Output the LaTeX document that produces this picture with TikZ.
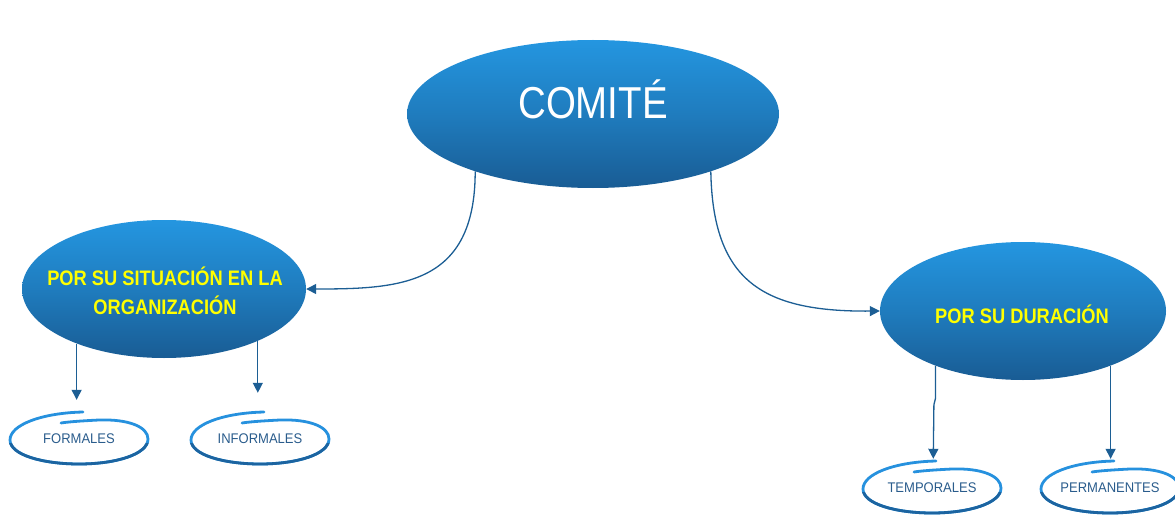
\documentclass[tikz,border=0pt]{standalone}
\usepackage{fontspec}
\setmainfont{Liberation Sans}
\newfontfamily\titlefont[FakeStretch=0.86]{Liberation Sans}
\newfontfamily\headfont[FakeStretch=0.87]{Liberation Sans}
\newfontfamily\leaffont[FakeStretch=0.93]{Liberation Sans}
\usetikzlibrary{shapes.geometric,arrows.meta}

\definecolor{topblue}{RGB}{36,150,224}
\definecolor{botblue}{RGB}{25,92,148}
\definecolor{linkblue}{RGB}{28,94,148}
\definecolor{labelblue}{RGB}{42,92,140}
\definecolor{ringlight}{RGB}{38,145,222}
\definecolor{ringdark}{RGB}{28,100,160}
\definecolor{hiyellow}{RGB}{255,255,0}

\tikzset{
  bubble/.style={ellipse, draw=none, top color=topblue, bottom color=botblue,
                 middle color=topblue!55!botblue, inner sep=0pt},
  leaf/.style={ellipse, draw=none, inner sep=0pt, minimum width=138pt,
               minimum height=50pt, text=labelblue,
               font=\leaffont\fontsize{14}{16}\selectfont},
  ring/.style={line width=2.8pt, line cap=round},
  link/.style={draw=linkblue, line width=1.3pt,
               -{Triangle[length=10pt,width=10pt]}},
}

% outline of a hand-drawn loop, relative to the label centre
\newcommand{\ringpath}{%
    (4,-27) .. controls (-38,-26) and (-69,-14) .. (-69,1)
            .. controls (-69,16) and (-36,25) .. (0,25)
            .. controls (38,25) and (69,15) .. (69,0)
            .. controls (69,-12) and (50,-20) .. (20,-19)
            .. controls (0,-18) and (-12,-17) .. (-18,-16)}

% loop around a leaf label: lighter on top, darker underneath
\newcommand{\loopring}[1]{%
  \begin{scope}[shift={(#1.center)}]
    \draw[ring, draw=ringlight] \ringpath;
    \begin{scope}
      \clip (-80,4) rectangle (80,32);
      \draw[ring, draw=ringdark] \ringpath;
    \end{scope}
  \end{scope}}

\begin{document}
\begin{tikzpicture}[x=1pt, y=-1pt]
\useasboundingbox (0,0) rectangle (1175,516);

% main concept
\node[bubble, minimum width=372pt, minimum height=148pt] (comite) at (593,114) {};
\node[text=white, font=\titlefont\fontsize{44.7}{50}\selectfont] (comitetxt) at (593,99) {COMITÉ};

% categories
\node[bubble, minimum width=284pt, minimum height=138pt] (situ) at (164,289) {};
\node[text=hiyellow, align=center, font=\headfont\bfseries\fontsize{21}{29}\selectfont]
  (situtxt) at (165,291) {POR SU SITUACIÓN EN LA\\ORGANIZACIÓN};

\node[bubble, minimum width=286pt, minimum height=138pt] (dur) at (1023,311) {};
\node[text=hiyellow, font=\headfont\bfseries\fontsize{21}{29}\selectfont]
  (durtxt) at (1022,314) {POR SU DURACIÓN};

% leaves
\node[leaf] (formales) at (79,439) {FORMALES};
\node[leaf] (informales) at (260,439) {INFORMALES};
\node[leaf] (temporales) at (932,488) {TEMPORALES};
\node[leaf] (permanentes) at (1110,488) {PERMANENTES};
\loopring{formales}
\loopring{informales}
\loopring{temporales}
\loopring{permanentes}

% connectors
\draw[link] (comite.206) .. controls +(0,114) and +(94,0) .. (situ.east);
\draw[link] (comite.334) .. controls +(2,109) and +(-118,1) .. (dur.west);

\draw[link] (situ.212) -- ([yshift=14pt]formales.north -| situ.212);
\draw[link] (situ.331) -- ([yshift=21pt]informales.north -| situ.331);

\draw[link] (dur.212) -- ++(0,33) -- ++(-1.5,6) -- ([yshift=4pt]temporales.north -| dur.211);
\draw[link] (dur.328) -- ([yshift=4pt]permanentes.north -| dur.328);
\end{tikzpicture}
\end{document}
